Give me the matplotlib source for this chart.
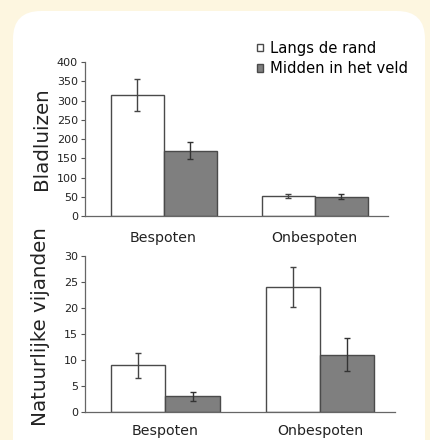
import matplotlib
matplotlib.use("Agg")
import matplotlib.pyplot as plt
from matplotlib.patches import FancyBboxPatch
import numpy as np

# data
groepen = ["Bespoten", "Onbespoten"]
reeksen = ["Langs de rand", "Midden in het veld"]

bladluizen_rand = [315, 52]
bladluizen_rand_err = [42, 5]
bladluizen_midden = [170, 50]
bladluizen_midden_err = [21, 7]

vijanden_rand = [9, 24]
vijanden_rand_err = [2.4, 3.9]
vijanden_midden = [3, 11]
vijanden_midden_err = [0.9, 3.2]

W, H = 430, 440
fig = plt.figure(figsize=(W / 100, H / 100), dpi=100)
fig.patch.set_facecolor("#fdf6e0")

# witte afgeronde kader, in pixelcoordinaten
bg = fig.add_axes([0, 0, 1, 1], zorder=-10)
bg.set_xlim(0, W)
bg.set_ylim(H, 0)
bg.axis("off")
bg.add_patch(FancyBboxPatch((13, 11), 412, 460,
                            boxstyle="round,pad=0,rounding_size=28",
                            facecolor="white", edgecolor="none"))

grijs = "#7f7f7f"
rand = "#4a4a4a"
breedte = 0.35
x = np.arange(len(groepen))


def paneel(ax, rand_w, rand_e, mid_w, mid_e, ymax, stap, label, pad):
    ax.bar(x - breedte / 2, rand_w, breedte, yerr=rand_e, color="white",
           edgecolor=rand, linewidth=1.0, error_kw=dict(ecolor="#444444", elinewidth=1.0, capsize=2.5),
           label=reeksen[0])
    ax.bar(x + breedte / 2, mid_w, breedte, yerr=mid_e, color=grijs,
           edgecolor=rand, linewidth=1.0, error_kw=dict(ecolor="#333333", elinewidth=1.0, capsize=2.5),
           label=reeksen[1])
    ax.set_xlim(-0.52, 1.484)
    ax.set_ylim(0, ymax)
    ax.set_yticks(np.arange(0, ymax + 1, stap))
    ax.set_xticks(x)
    ax.set_xticklabels(groepen, fontsize=10.2, color="#222222")
    ax.tick_params(axis="x", length=0, pad=pad)
    ax.tick_params(axis="y", labelsize=8, length=3, width=0.8, colors="#555555",
                   labelcolor="#222222", pad=2)
    for s in ["top", "right"]:
        ax.spines[s].set_visible(False)
    for s in ["left", "bottom"]:
        ax.spines[s].set_color("#666666")
        ax.spines[s].set_linewidth(0.9)
    ax.set_facecolor("none")
    ax.set_ylabel(label, fontsize=14.3, color="#222222")


ax1 = fig.add_axes([85 / W, (H - 216) / H, (388 - 85) / W, (216 - 62) / H])
paneel(ax1, bladluizen_rand, bladluizen_rand_err, bladluizen_midden,
       bladluizen_midden_err, 400, 50, "Bladluizen", 11)
ax1.yaxis.set_label_coords(-0.112, 0.5)
ax1.legend(loc="upper left", bbox_to_anchor=(0.568, 1.137), frameon=False,
           fontsize=10.6, handlelength=0.42, handleheight=0.42, handletextpad=0.45,
           labelspacing=0.35, borderaxespad=0, borderpad=0)

ax2 = fig.add_axes([85 / W, (H - 412) / H, (395 - 85) / W, (412 - 256) / H])
paneel(ax2, vijanden_rand, vijanden_rand_err, vijanden_midden,
       vijanden_midden_err, 30, 5, "Natuurlijke vijanden", 8.5)
ax2.yaxis.set_label_coords(-0.113, 0.545)

fig.savefig("out.png", dpi=100, facecolor=fig.get_facecolor())
